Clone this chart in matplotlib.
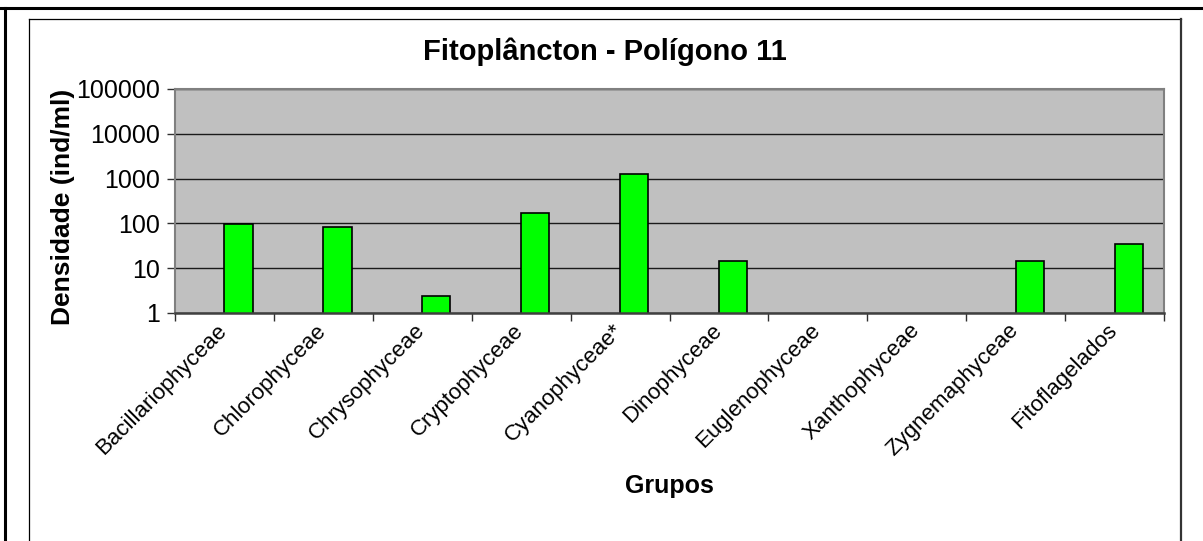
import numpy as np
import matplotlib
matplotlib.use("Agg")
import matplotlib.pyplot as plt
from matplotlib.lines import Line2D
from matplotlib.ticker import FixedLocator, NullLocator, FuncFormatter

plt.rcParams.update({
    "font.family": ["Liberation Sans", "DejaVu Sans"],
    "font.size": 17,
})

grupos = ["Bacillariophyceae", "Chlorophyceae", "Chrysophyceae", "Cryptophyceae",
          "Cyanophyceae*", "Dinophyceae", "Euglenophyceae", "Xanthophyceae",
          "Zygnemaphyceae", "Fitoflagelados"]
densidade = [98, 84, 2.4, 167, 1270, 14.3, 0, 0, 14.3, 34]
yticks = [1, 10, 100, 1000, 10000, 100000]

W, H = 1203, 541
fig = plt.figure(figsize=(W / 100, H / 100), dpi=100)
ax = fig.add_axes([175 / W, 1 - 313 / H, (1164 - 175) / W, (313 - 89) / H])
ax.set_facecolor("#c0c0c0")

x = np.arange(len(grupos))
vals = np.array(densidade, dtype=float)
mask = vals > 0
ax.bar(x[mask], vals[mask], width=0.285, align="edge",
       color="#00ff00", edgecolor="black", linewidth=1.2, zorder=3)

ax.set_yscale("log")
ax.set_ylim(1, 100000)
ax.set_xlim(-0.5, len(grupos) - 0.5)
ax.yaxis.set_major_locator(FixedLocator(yticks))
ax.yaxis.set_minor_locator(NullLocator())
ax.yaxis.set_major_formatter(FuncFormatter(lambda v, p: f"{int(round(v))}"))
ax.grid(axis="y", color="#1a1a1a", linewidth=1.0, zorder=1)

# labels sit slightly left of the category centre, like Excel does
ax.set_xticks(x - 0.08)
ax.set_xticklabels(grupos, rotation=45, ha="right", rotation_mode="anchor",
                   fontsize=16)
ax.set_xticks(np.arange(len(grupos) + 1) - 0.5, minor=True)
ax.tick_params(axis="x", which="major", length=0, pad=5)
ax.tick_params(axis="x", which="minor", length=6, width=1, color="#303030",
               direction="out")
ax.tick_params(axis="y", length=6, width=1, color="#303030", direction="out",
               pad=5, labelsize=18)

for s in ("top", "right", "left"):
    ax.spines[s].set_color("#808080")
    ax.spines[s].set_linewidth(1.5)
ax.spines["bottom"].set_color("#404040")
ax.spines["bottom"].set_linewidth(1.8)
ax.spines["bottom"].set_zorder(4)

ax.set_ylabel("Densidade (ind/ml)", fontweight="bold", fontsize=19)
ax.yaxis.set_label_coords(-100 / (1164 - 175), 0.473)
ax.set_xlabel("Grupos", fontweight="bold", fontsize=18)
ax.xaxis.set_label_coords(0.5, -(474 - 313) / (313 - 89), transform=ax.transAxes)
fig.text(605 / W, 1 - 52 / H, "Fitoplâncton - Polígono 11", fontsize=21,
         fontweight="bold", ha="center", va="center")


def px_line(x0, y0, x1, y1, **kw):
    fig.add_artist(Line2D([x0 / W, x1 / W], [1 - y0 / H, 1 - y1 / H],
                          transform=fig.transFigure, **kw))


# outer frame (top and left), inner chart frame
px_line(0, 8, W, 8, color="black", linewidth=2.2)
px_line(5, 8, 5, H, color="black", linewidth=2.2)
px_line(29, 19, 1181, 19, color="black", linewidth=0.9)
px_line(29, 19, 29, H, color="black", linewidth=0.9)
px_line(1181, 19, 1181, H, color="#333333", linewidth=1.6)

fig.savefig("out.png", dpi=100)
